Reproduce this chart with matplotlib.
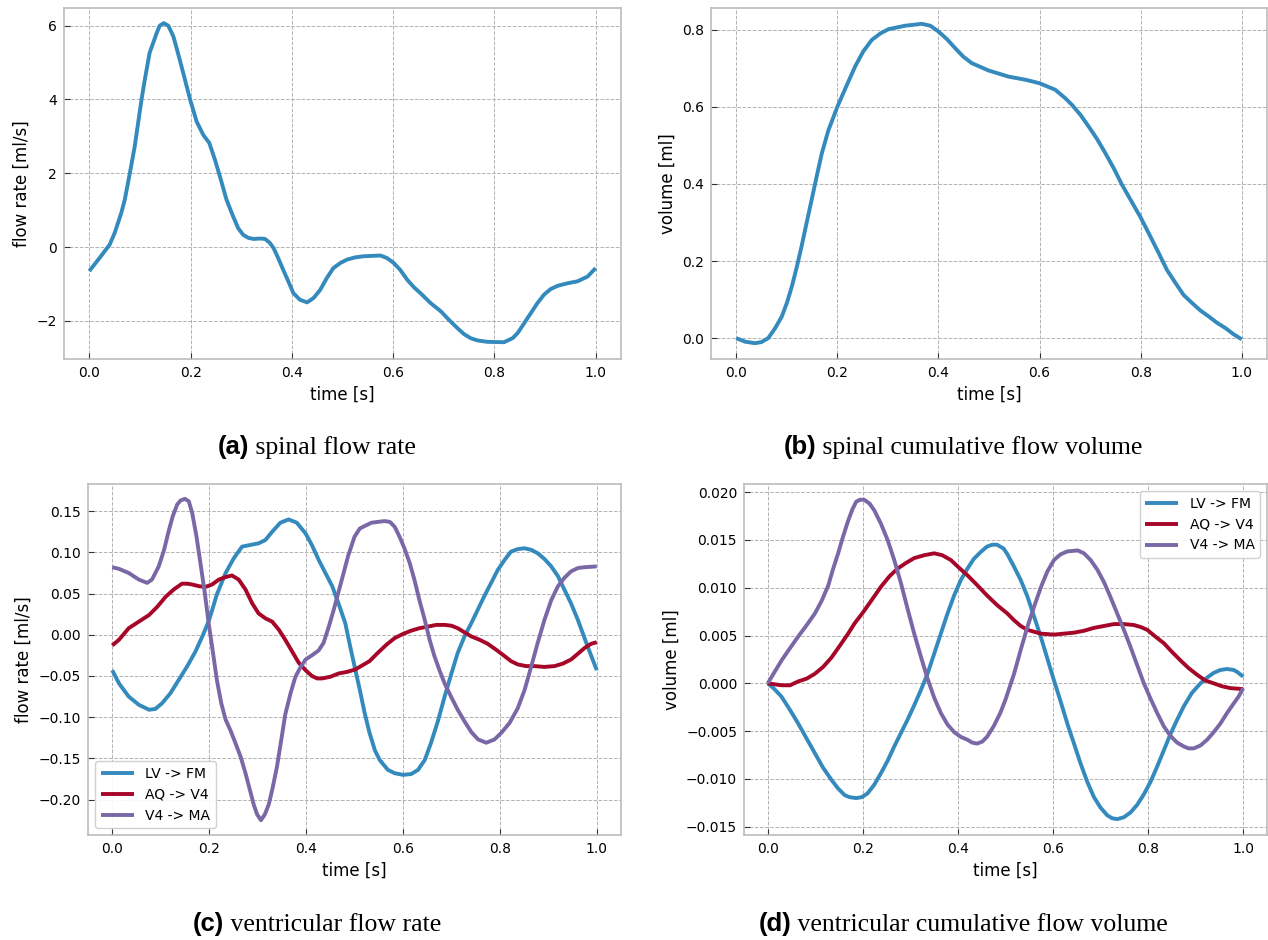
import matplotlib
matplotlib.use("Agg")
import matplotlib.pyplot as plt

# ---------------- data (time [s], value) ----------------
a_flow = [(0, -0.65), (0.020, -0.30), (0.040, 0.06), (0.050, 0.38), (0.063, 0.92), (0.070, 1.28),
          (0.080, 2.0), (0.0897, 2.73), (0.103, 3.99), (0.1095, 4.53), (0.119, 5.26), (0.126, 5.53),
          (0.133, 5.8), (0.139, 6.0), (0.147, 6.07), (0.156, 6.0), (0.166, 5.71), (0.175, 5.26),
          (0.182, 4.9), (0.189, 4.53), (0.199, 4.0), (0.212, 3.4), (0.225, 3.04), (0.237, 2.82),
          (0.248, 2.37), (0.258, 1.91), (0.271, 1.28), (0.284, 0.83), (0.294, 0.51), (0.304, 0.33),
          (0.314, 0.25), (0.324, 0.22), (0.337, 0.23), (0.347, 0.22), (0.356, 0.12), (0.364, -0.03),
          (0.373, -0.30), (0.383, -0.62), (0.393, -0.93), (0.403, -1.25), (0.416, -1.43), (0.430, -1.5),
          (0.443, -1.38), (0.456, -1.16), (0.469, -0.84), (0.482, -0.57), (0.496, -0.43), (0.509, -0.34),
          (0.525, -0.28), (0.542, -0.25), (0.575, -0.23), (0.588, -0.30), (0.601, -0.43), (0.614, -0.62),
          (0.628, -0.89), (0.641, -1.09), (0.654, -1.25), (0.674, -1.52), (0.694, -1.74), (0.710, -1.97),
          (0.727, -2.2), (0.740, -2.36), (0.753, -2.47), (0.766, -2.53), (0.786, -2.57), (0.819, -2.58),
          (0.836, -2.47), (0.846, -2.33), (0.859, -2.06), (0.872, -1.79), (0.885, -1.52), (0.898, -1.29),
          (0.911, -1.14), (0.925, -1.05), (0.945, -0.98), (0.964, -0.93), (0.984, -0.80), (1.0, -0.57)]

b_vol = [(0, 0), (0.017, -0.009), (0.037, -0.013), (0.050, -0.010), (0.063, 0.0), (0.077, 0.026),
         (0.090, 0.056), (0.100, 0.091), (0.110, 0.134), (0.120, 0.186), (0.129, 0.237), (0.139, 0.298),
         (0.149, 0.358), (0.159, 0.419), (0.169, 0.478), (0.182, 0.538), (0.2, 0.6), (0.219, 0.657),
         (0.235, 0.704), (0.251, 0.743), (0.268, 0.773), (0.285, 0.79), (0.301, 0.801), (0.334, 0.81),
         (0.367, 0.815), (0.384, 0.81), (0.4, 0.795), (0.417, 0.775), (0.433, 0.752), (0.449, 0.73),
         (0.466, 0.713), (0.499, 0.694), (0.539, 0.678), (0.572, 0.67), (0.6, 0.661), (0.631, 0.644),
         (0.651, 0.622), (0.664, 0.605), (0.681, 0.579), (0.697, 0.549), (0.714, 0.516), (0.730, 0.48),
         (0.747, 0.440), (0.763, 0.398), (0.783, 0.352), (0.8, 0.313), (0.816, 0.272), (0.836, 0.22),
         (0.852, 0.177), (0.869, 0.143), (0.885, 0.112), (0.902, 0.091), (0.918, 0.072), (0.935, 0.056),
         (0.951, 0.040), (0.968, 0.026), (0.984, 0.010), (1.0, -0.003)]

series_labels = ["LV -> FM", "AQ -> V4", "V4 -> MA"]

c_lv = [(0, -0.043), (0.014, -0.059), (0.034, -0.075), (0.055, -0.085), (0.076, -0.091), (0.089, -0.090),
        (0.103, -0.083), (0.120, -0.071), (0.137, -0.055), (0.155, -0.038), (0.172, -0.020), (0.186, -0.002),
        (0.2, 0.018), (0.216, 0.049), (0.234, 0.075), (0.251, 0.093), (0.268, 0.107), (0.285, 0.109),
        (0.302, 0.111), (0.316, 0.115), (0.330, 0.125), (0.347, 0.136), (0.364, 0.140), (0.381, 0.136),
        (0.399, 0.123), (0.412, 0.109), (0.426, 0.091), (0.454, 0.059), (0.467, 0.038), (0.481, 0.014),
        (0.491, -0.014), (0.500, -0.038), (0.511, -0.067), (0.521, -0.095), (0.531, -0.119), (0.542, -0.140),
        (0.552, -0.152), (0.569, -0.164), (0.583, -0.168), (0.6, -0.170), (0.617, -0.169), (0.631, -0.164),
        (0.645, -0.152), (0.658, -0.131), (0.672, -0.105), (0.686, -0.075), (0.700, -0.047), (0.713, -0.022),
        (0.727, -0.002), (0.741, 0.014), (0.768, 0.047), (0.782, 0.063), (0.796, 0.079), (0.810, 0.091),
        (0.823, 0.101), (0.837, 0.104), (0.851, 0.105), (0.865, 0.103), (0.878, 0.099), (0.892, 0.092),
        (0.906, 0.083), (0.920, 0.071), (0.933, 0.055), (0.947, 0.038), (0.961, 0.018), (0.971, 0.002),
        (0.981, -0.014), (1.0, -0.043)]

c_aq = [(0, -0.013), (0.014, -0.006), (0.034, 0.008), (0.055, 0.016), (0.076, 0.024), (0.093, 0.034),
        (0.110, 0.046), (0.127, 0.055), (0.144, 0.062), (0.155, 0.062), (0.165, 0.061), (0.179, 0.059),
        (0.192, 0.058), (0.206, 0.061), (0.220, 0.067), (0.234, 0.070), (0.247, 0.072), (0.261, 0.067),
        (0.275, 0.055), (0.289, 0.038), (0.302, 0.026), (0.316, 0.020), (0.330, 0.016), (0.344, 0.006),
        (0.357, -0.006), (0.371, -0.020), (0.385, -0.034), (0.399, -0.043), (0.412, -0.050), (0.423, -0.053),
        (0.433, -0.053), (0.450, -0.051), (0.467, -0.047), (0.485, -0.045), (0.502, -0.042), (0.531, -0.032),
        (0.548, -0.022), (0.566, -0.012), (0.583, -0.004), (0.6, 0.001), (0.617, 0.005), (0.634, 0.008),
        (0.652, 0.010), (0.669, 0.012), (0.686, 0.012), (0.700, 0.011), (0.713, 0.008), (0.727, 0.003),
        (0.741, -0.002), (0.758, -0.006), (0.775, -0.011), (0.792, -0.018), (0.810, -0.026), (0.823, -0.032),
        (0.837, -0.036), (0.854, -0.038), (0.871, -0.038), (0.892, -0.039), (0.913, -0.038), (0.930, -0.035),
        (0.947, -0.030), (0.961, -0.023), (0.975, -0.016), (0.988, -0.011), (1.0, -0.009)]

c_ma = [(0, 0.082), (0.014, 0.080), (0.034, 0.075), (0.055, 0.067), (0.072, 0.063), (0.082, 0.067),
        (0.096, 0.083), (0.107, 0.103), (0.117, 0.127), (0.125, 0.144), (0.134, 0.158), (0.141, 0.163),
        (0.150, 0.165), (0.158, 0.162), (0.165, 0.148), (0.174, 0.119), (0.182, 0.087), (0.191, 0.051),
        (0.199, 0.014), (0.208, -0.022), (0.216, -0.055), (0.225, -0.083), (0.234, -0.103), (0.244, -0.116),
        (0.254, -0.131), (0.265, -0.148), (0.275, -0.168), (0.284, -0.188), (0.292, -0.206), (0.299, -0.218),
        (0.307, -0.225), (0.315, -0.218), (0.323, -0.206), (0.331, -0.186), (0.340, -0.160), (0.349, -0.127),
        (0.357, -0.097), (0.368, -0.071), (0.378, -0.051), (0.388, -0.040), (0.399, -0.030), (0.412, -0.025),
        (0.426, -0.019), (0.436, -0.010), (0.447, 0.010), (0.457, 0.030), (0.467, 0.052), (0.478, 0.076),
        (0.487, 0.096), (0.500, 0.119), (0.511, 0.129), (0.521, 0.132), (0.535, 0.136), (0.548, 0.137),
        (0.562, 0.138), (0.573, 0.137), (0.583, 0.131), (0.593, 0.119), (0.603, 0.105), (0.614, 0.087),
        (0.624, 0.066), (0.634, 0.042), (0.645, 0.018), (0.655, -0.006), (0.665, -0.026), (0.676, -0.044),
        (0.686, -0.059), (0.700, -0.076), (0.713, -0.091), (0.727, -0.105), (0.741, -0.118), (0.755, -0.127),
        (0.772, -0.131), (0.789, -0.127), (0.803, -0.119), (0.820, -0.107), (0.837, -0.089), (0.851, -0.067),
        (0.865, -0.038), (0.878, -0.010), (0.892, 0.018), (0.906, 0.042), (0.920, 0.059), (0.933, 0.069),
        (0.947, 0.077), (0.961, 0.081), (0.975, 0.082), (1.0, 0.083)]

d_lv = [(0, 0), (0.012, -0.0005), (0.029, -0.0014), (0.047, -0.0028), (0.064, -0.0042), (0.082, -0.0058),
        (0.099, -0.0073), (0.116, -0.0088), (0.134, -0.0101), (0.148, -0.0110), (0.162, -0.0117),
        (0.172, -0.0119), (0.186, -0.0120), (0.198, -0.0119), (0.210, -0.0115), (0.224, -0.0106),
        (0.238, -0.0094), (0.252, -0.0081), (0.266, -0.0066), (0.280, -0.0052), (0.294, -0.0038),
        (0.308, -0.0023), (0.322, -0.0007), (0.336, 0.0010), (0.350, 0.0031), (0.364, 0.0052),
        (0.378, 0.0073), (0.392, 0.0092), (0.406, 0.0108), (0.420, 0.0120), (0.433, 0.0130), (0.447, 0.0137),
        (0.461, 0.0143), (0.472, 0.0145), (0.482, 0.0145), (0.496, 0.0141), (0.504, 0.0135), (0.518, 0.0122),
        (0.532, 0.0108), (0.546, 0.0091), (0.560, 0.0070), (0.574, 0.0049), (0.588, 0.0026), (0.602, 0.0003),
        (0.616, -0.0019), (0.630, -0.0042), (0.644, -0.0063), (0.658, -0.0084), (0.672, -0.0103),
        (0.686, -0.0119), (0.700, -0.0130), (0.714, -0.0138), (0.724, -0.0141), (0.735, -0.0142),
        (0.749, -0.0140), (0.763, -0.0135), (0.777, -0.0127), (0.791, -0.0116), (0.805, -0.0103),
        (0.819, -0.0087), (0.833, -0.0070), (0.847, -0.0053), (0.861, -0.0038), (0.875, -0.0024),
        (0.892, -0.0010), (0.910, 0.0), (0.924, 0.0006), (0.938, 0.0011), (0.952, 0.0014), (0.966, 0.0015),
        (0.980, 0.0014), (0.987, 0.0012), (1.0, 0.0007)]

d_aq = [(0, 0), (0.029, -0.0002), (0.047, -0.0002), (0.064, 0.0002), (0.082, 0.0005), (0.099, 0.0010),
        (0.116, 0.0017), (0.134, 0.0027), (0.151, 0.0039), (0.169, 0.0052), (0.183, 0.0063), (0.2, 0.0074),
        (0.217, 0.0086), (0.238, 0.0101), (0.256, 0.0112), (0.273, 0.0120), (0.291, 0.0126), (0.308, 0.0131),
        (0.329, 0.0134), (0.350, 0.0136), (0.367, 0.0134), (0.385, 0.0129), (0.402, 0.0121), (0.420, 0.0113),
        (0.440, 0.0103), (0.461, 0.0092), (0.482, 0.0082), (0.504, 0.0073), (0.518, 0.0066), (0.532, 0.0060),
        (0.546, 0.0056), (0.560, 0.0054), (0.574, 0.0052), (0.602, 0.0051), (0.644, 0.0053), (0.665, 0.0055),
        (0.686, 0.0058), (0.707, 0.0060), (0.728, 0.0062), (0.749, 0.0062), (0.770, 0.0061), (0.784, 0.0059),
        (0.798, 0.0056), (0.815, 0.0049), (0.833, 0.0042), (0.850, 0.0033), (0.868, 0.0024), (0.885, 0.0016),
        (0.903, 0.0009), (0.920, 0.0003), (0.938, 0.0), (0.955, -0.0003), (0.973, -0.0005), (1.0, -0.0006)]

d_ma = [(0, 0), (0.012, 0.0010), (0.029, 0.0024), (0.047, 0.0037), (0.064, 0.0049), (0.082, 0.0061),
        (0.099, 0.0073), (0.113, 0.0086), (0.127, 0.0102), (0.137, 0.0119), (0.148, 0.0136), (0.158, 0.0153),
        (0.169, 0.0170), (0.178, 0.0182), (0.186, 0.0190), (0.194, 0.0192), (0.203, 0.0192), (0.214, 0.0188),
        (0.224, 0.0181), (0.238, 0.0167), (0.252, 0.0150), (0.266, 0.0129), (0.280, 0.0105), (0.294, 0.0078),
        (0.308, 0.0052), (0.322, 0.0028), (0.336, 0.0005), (0.350, -0.0015), (0.364, -0.0031),
        (0.378, -0.0043), (0.392, -0.0051), (0.406, -0.0056), (0.420, -0.0059), (0.430, -0.0062),
        (0.440, -0.0063), (0.451, -0.0061), (0.461, -0.0056), (0.475, -0.0045), (0.489, -0.0031),
        (0.500, -0.0017), (0.518, 0.0010), (0.532, 0.0035), (0.546, 0.0059), (0.560, 0.0080), (0.574, 0.0100),
        (0.588, 0.0117), (0.602, 0.0129), (0.616, 0.0135), (0.630, 0.0138), (0.652, 0.0139), (0.665, 0.0136),
        (0.679, 0.0129), (0.693, 0.0119), (0.707, 0.0106), (0.721, 0.0090), (0.735, 0.0073), (0.749, 0.0056),
        (0.763, 0.0038), (0.777, 0.0019), (0.791, 0.0), (0.805, -0.0016), (0.819, -0.0031), (0.833, -0.0045),
        (0.847, -0.0055), (0.861, -0.0062), (0.875, -0.0066), (0.885, -0.0068), (0.896, -0.0068),
        (0.910, -0.0065), (0.924, -0.0059), (0.938, -0.0051), (0.952, -0.0042), (0.966, -0.0031),
        (0.980, -0.0021), (0.990, -0.0014), (1.0, -0.0005)]

x_ticks = [0.0, 0.2, 0.4, 0.6, 0.8, 1.0]
a_yticks = [-2, 0, 2, 4, 6]
b_yticks = [0.0, 0.2, 0.4, 0.6, 0.8]
c_yticks = [-0.20, -0.15, -0.10, -0.05, 0.00, 0.05, 0.10, 0.15]
d_yticks = [-0.015, -0.010, -0.005, 0.000, 0.005, 0.010, 0.015, 0.020]

captions = [("(a)", " spinal flow rate"), ("(b)", " spinal cumulative flow volume"),
            ("(c)", " ventricular flow rate"), ("(d)", " ventricular cumulative flow volume")]

# ---------------- style ----------------
colors = ["#348ABD", "#A60628", "#7A68A6"]
plt.rcParams.update({
    "font.family": "DejaVu Sans",
    "font.size": 10,
    "axes.edgecolor": "#bcbcbc",
    "axes.linewidth": 1.2,
    "axes.facecolor": "white",
    "grid.color": "#b2b2b2",
    "grid.linestyle": "--",
    "grid.linewidth": 0.7,
    "xtick.direction": "in",
    "ytick.direction": "in",
    "xtick.major.size": 4.5,
    "ytick.major.size": 4.5,
    "xtick.major.pad": 5,
    "ytick.major.pad": 5,
    "xtick.color": "#333333",
    "ytick.color": "#333333",
    "xtick.labelcolor": "black",
    "ytick.labelcolor": "black",
    "xtick.labelsize": 10,
    "ytick.labelsize": 10,
    "axes.labelsize": 12,
    "lines.solid_joinstyle": "round",
    "lines.solid_capstyle": "butt",
})

W, H = 1268, 940
fig = plt.figure(figsize=(W / 100, H / 100), dpi=100)


def add_ax(l, r, t, b):
    return fig.add_axes([l / W, 1 - b / H, (r - l) / W, (b - t) / H])


def xy(points):
    return [p[0] for p in points], [p[1] for p in points]


ax_a = add_ax(64, 621, 8, 359)
ax_b = add_ax(711, 1267, 8, 359)
ax_c = add_ax(88, 621, 484, 835)
ax_d = add_ax(744, 1267, 484, 835)

LW = 2.8

ax_a.plot(*xy(a_flow), color=colors[0], lw=LW)
ax_a.set_ylim(-3.035, 6.48)
ax_a.set_yticks(a_yticks)
ax_a.set_ylabel("flow rate [ml/s]")

ax_b.plot(*xy(b_vol), color=colors[0], lw=LW)
ax_b.set_ylim(-0.054, 0.856)
ax_b.set_yticks(b_yticks)
ax_b.set_yticklabels([f"{v:.1f}" for v in b_yticks])
ax_b.set_ylabel("volume [ml]")

for pts, c, lab in zip([c_lv, c_aq, c_ma], colors, series_labels):
    ax_c.plot(*xy(pts), color=c, lw=LW, label=lab)
ax_c.set_ylim(-0.243, 0.183)
ax_c.set_yticks(c_yticks)
ax_c.set_yticklabels([f"{v:.2f}".replace("-", "\u2212") for v in c_yticks])
ax_c.set_ylabel("flow rate [ml/s]")
ax_c.legend(loc="lower left", handlelength=2.4, fancybox=True, framealpha=0.9,
            edgecolor="#cccccc", fontsize=10)

for pts, c, lab in zip([d_lv, d_aq, d_ma], colors, series_labels):
    ax_d.plot(*xy(pts), color=c, lw=LW, label=lab)
ax_d.set_ylim(-0.01586, 0.02085)
ax_d.set_yticks(d_yticks)
ax_d.set_yticklabels([f"{v:.3f}".replace("-", "\u2212") for v in d_yticks])
ax_d.set_ylabel("volume [ml]")
ax_d.legend(loc="upper right", handlelength=2.4, fancybox=True, framealpha=0.9,
            edgecolor="#cccccc", fontsize=10)

for ax in (ax_a, ax_b, ax_c, ax_d):
    ax.set_xlim(-0.05, 1.05)
    ax.set_xticks(x_ticks)
    ax.set_xticklabels([f"{v:.1f}" for v in x_ticks])
    ax.set_xlabel("time [s]")
    ax.grid(True)
    ax.set_axisbelow(True)

# ---------------- captions ----------------
cap_pos = [(317, 447), (963, 447), (317, 924), (963, 924)]
CAP_FS = 18.5
renderer = fig.canvas.get_renderer()
for (bold, rest), (cx, cy) in zip(captions, cap_pos):
    t1 = fig.text(0, 1 - cy / H, bold, family="Liberation Sans", weight="bold",
                  fontsize=CAP_FS, va="baseline", ha="left")
    t2 = fig.text(0, 1 - cy / H, rest, family="Liberation Serif",
                  fontsize=CAP_FS, va="baseline", ha="left")
    w1 = t1.get_window_extent(renderer).width
    w2 = t2.get_window_extent(renderer).width
    x0 = cx - (w1 + w2) / 2
    base = 1 - (cy + 7) / H
    t1.set_position((x0 / W, base))
    t2.set_position(((x0 + w1) / W, base))

fig.savefig("out.png", dpi=100)
